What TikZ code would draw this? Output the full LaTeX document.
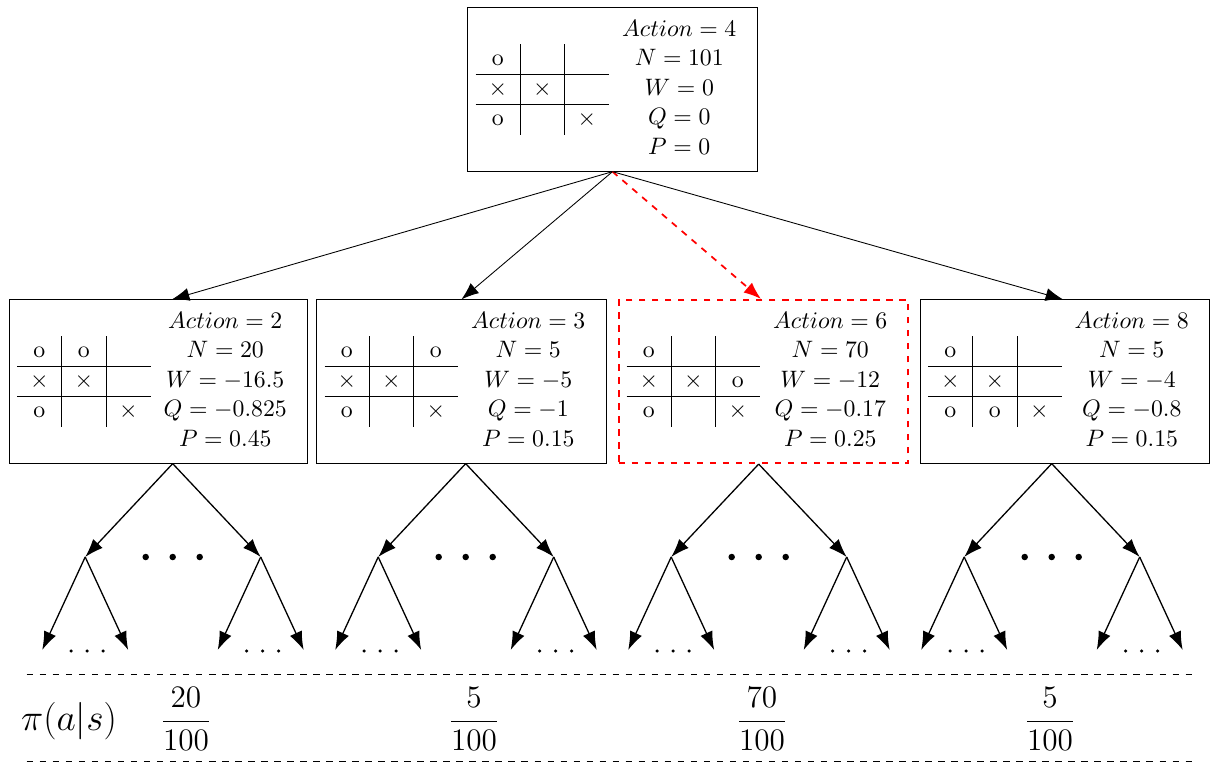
\documentclass[tikz,border=0pt,11pt]{standalone}
\usetikzlibrary{calc,arrows.meta}

\newcommand{\tttboard}[9]{\begin{tabular}{c|c|c}#1&#2&#3\\\hline#4&#5&#6\\\hline#7&#8&#9\end{tabular}}
\newcommand{\nodestats}[5]{\begin{tabular}{c}$Action=#1$\\$N=#2$\\$W=#3$\\$Q=#4$\\$P=#5$\end{tabular}}
\newcommand{\xx}{$\times$}

\begin{document}
\begin{tikzpicture}[x=0.4608pt,y=-0.4608pt,
  state/.style={draw},
  chosen/.style={draw=red,dashed,thick},
  edge/.style={-{Latex[length=8pt,width=6pt]}},
  branch/.style={-{Latex[length=8.5pt,width=6pt]},semithick}]
\useasboundingbox (0,0) rectangle (1210,763);

% root and the four expanded children
\node[state] (root) at (612.5,89.5) {\tttboard{o}{}{}{\xx}{\xx}{}{o}{}{\xx}\nodestats{4}{101}{0}{0}{0}};
\node[state] (c1) at (158.5,381.5) {\tttboard{o}{o}{}{\xx}{\xx}{}{o}{}{\xx}\nodestats{2}{20}{-16.5}{-0.825}{0.45}};
\node[state] (c2) at (461.5,381.5) {\tttboard{o}{}{o}{\xx}{\xx}{}{o}{}{\xx}\nodestats{3}{5}{-5}{-1}{0.15}};
\node[chosen] (c3) at (763.5,381.5) {\tttboard{o}{}{}{\xx}{\xx}{o}{o}{}{\xx}\nodestats{6}{70}{-12}{-0.17}{0.25}};
\node[state] (c4) at (1065,381.5) {\tttboard{o}{}{}{\xx}{\xx}{}{o}{o}{\xx}\nodestats{8}{5}{-4}{-0.8}{0.15}};

\draw[edge] (root.south) -- ($(c1.north)+(13.5,0)$);
\draw[edge] (root.south) -- (c2.north);
\draw[edge,red,dashed,thick] (root.south) -- ($(c3.north)+(-2.5,0)$);
\draw[edge] (root.south) -- ($(c4.north)+(-2,0)$);

% subtrees below each child
\foreach \k in {1,...,4} {
  \pgfmathsetmacro{\xr}{172.7+293*(\k-1)}
  \coordinate (t\k) at (\xr,0);
  \coordinate (r\k) at (c\k.south -| t\k);
  \coordinate (l\k) at (\xr-87.5,557);
  \coordinate (m\k) at (\xr+88,557);
  \coordinate (ll\k) at (\xr-130.5,650);
  \coordinate (lr\k) at (\xr-44.5,650);
  \coordinate (ml\k) at (\xr+45,650);
  \coordinate (mr\k) at (\xr+131,650);
  \draw[branch] (r\k) -- (l\k);
  \draw[branch] (r\k) -- (m\k);
  \draw[branch] (l\k) -- (ll\k);
  \draw[branch] (l\k) -- (lr\k);
  \draw[branch] (m\k) -- (ml\k);
  \draw[branch] (m\k) -- (mr\k);
  \foreach \d in {-27,0,27} \fill (\xr+\d,557) circle (1.5pt);
  \foreach \d in {-16,0,16} {
    \fill (\xr-85.5+\d,651) circle (0.8pt);
    \fill (\xr+90+\d,651) circle (0.8pt);
  }
}

% visit distribution
\draw[dashed] (26.7,674.3) -- (1193,674.3);
\draw[dashed] (26.7,761.7) -- (1193,761.7);
\node[font=\fontsize{16.5}{20}\selectfont] (pi) at (69,721) {$\pi(a|s)$};
\foreach \k/\n in {1/20,2/5,3/70,4/5}
  \node[font=\Large] (f\k) at (186+288*\k-288,719) {$\displaystyle\frac{\n}{100}$};
\end{tikzpicture}
\end{document}
